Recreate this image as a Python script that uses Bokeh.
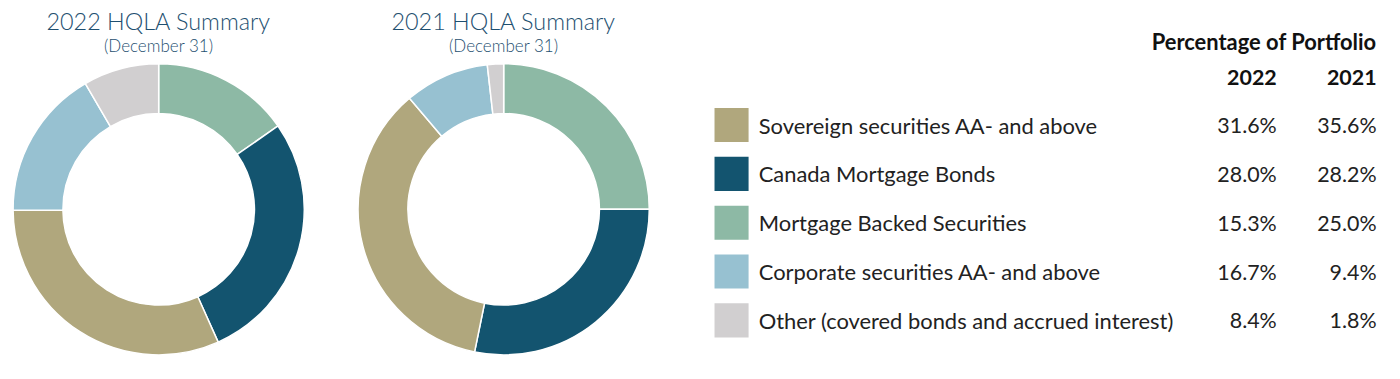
import numpy as np
from bokeh.plotting import figure
from bokeh.models import Range1d, ColumnDataSource
from bokeh.core.properties import value
from bokeh.embed import file_html
from bokeh.resources import INLINE

# ---------------- data ----------------
categories = [
    "Sovereign securities AA- and above",
    "Canada Mortgage Bonds",
    "Mortgage Backed Securities",
    "Corporate securities AA- and above",
    "Other (covered bonds and accrued interest)",
]
pct_2022 = [31.6, 28.0, 15.3, 16.7, 8.4]
pct_2021 = [35.6, 28.2, 25.0, 9.4, 1.8]
colors = ["#B0A77D", "#13546F", "#8DB9A5", "#97C1D1", "#D1CFD0"]
# clockwise order of slices starting at 12 o'clock
donut_order = [2, 1, 0, 3, 4]
years = ["2022", "2021"]
titles = ["2022 HQLA Summary", "2021 HQLA Summary"]
subtitle = "(December 31)"
header = "Percentage of Portfolio"

W, H = 1384, 363
SX, SY = W / 1400, H / 379
S = (SX + SY) / 2
FONT = "Lato"
FONT_LIGHT = "'Lato Light', Lato"


def px(ref_x):
    return ref_x * SX


def py(ref_y):
    return H - ref_y * SY


def fs(size):
    return value(f"{size * S:.1f}px")


p = figure(width=W, height=H, output_backend="svg", toolbar_location=None,
           x_range=Range1d(0, W), y_range=Range1d(0, H),
           min_border=0, x_axis_location=None, y_axis_location=None)
p.xgrid.visible = False
p.ygrid.visible = False
p.outline_line_color = None
p.background_fill_color = "white"
p.border_fill_color = "white"

R_OUT, R_IN = 152 * SY, 100 * SY
centers = [(160, 218), (509, 218)]

for (cx, cy), vals, title in zip(centers, [pct_2022, pct_2021], titles):
    v = np.array([vals[i] for i in donut_order], dtype=float)
    frac = v / v.sum()
    cum = np.concatenate([[0], np.cumsum(frac)])
    start = np.pi / 2 - 2 * np.pi * cum[:-1]
    end = np.pi / 2 - 2 * np.pi * cum[1:]
    src = ColumnDataSource(dict(
        x=[px(cx)] * len(v), y=[py(cy)] * len(v),
        start=start, end=end,
        color=[colors[i] for i in donut_order],
    ))
    p.annular_wedge(x="x", y="y", inner_radius=R_IN, outer_radius=R_OUT,
                    start_angle="start", end_angle="end", direction="clock",
                    fill_color="color", line_color="white", line_width=1.5,
                    source=src)
    p.text(x=[px(cx)], y=[py(21)], text=[title], text_align="center",
           text_baseline="middle", text_font=value(FONT_LIGHT),
           text_font_size=fs(24), text_color="#1E4F70")
    p.text(x=[px(cx)], y=[py(46.5)], text=[subtitle], text_align="center",
           text_baseline="middle", text_font=value(FONT_LIGHT),
           text_font_size=fs(17.5), text_color="#1E4F70")

# ---------------- table / legend ----------------
col_x = [1291, 1392]
p.text(x=[px(1392)], y=[py(43)], text=[header], text_align="right",
       text_baseline="middle", text_font=value(FONT),
       text_font_size=fs(22.5), text_font_style="bold", text_color="#111111")
for yr, cxp in zip(years, col_x):
    p.text(x=[px(cxp)], y=[py(80)], text=[yr], text_align="right",
           text_baseline="middle", text_font=value(FONT),
           text_font_size=fs(22), text_font_style="bold", text_color="#111111")

row_y = [py(130 + 51 * i) for i in range(len(categories))]
p.rect(x=[px(739.5)] * len(categories), y=row_y, width=35 * S, height=35 * S,
       fill_color=colors, line_color=None)
p.text(x=[px(767)] * len(categories), y=row_y, text=categories,
       text_align="left", text_baseline="middle", text_font=value(FONT),
       text_font_size=fs(22.5), text_color="#222222")
for vals, cxp in zip([pct_2022, pct_2021], col_x):
    p.text(x=[px(cxp)] * len(vals), y=row_y, text=[f"{v:.1f}%" for v in vals],
           text_align="right", text_baseline="middle", text_font=value(FONT),
           text_font_size=fs(22), text_color="#222222")

open("out.html", "w").write(file_html(p, INLINE))
